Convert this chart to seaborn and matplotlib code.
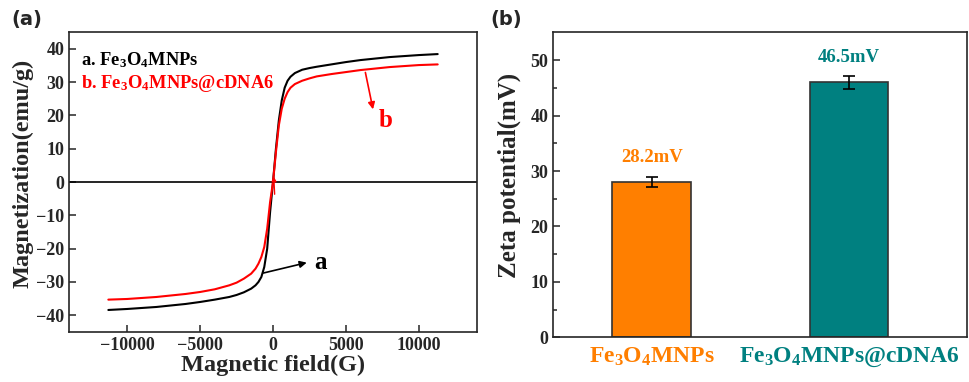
import numpy as np
import pandas as pd
import matplotlib
matplotlib.use("Agg")
import matplotlib.pyplot as plt
import seaborn as sns

# Hysteresis data (field in G, magnetization in emu/g)
field = [-11300, -10000, -8000, -6000, -5000, -4000, -3000, -2500, -2000, -1500,
         -1200, -1000, -800, -600, -400, -200, 0, 200, 400, 600, 800, 1000, 1200,
         1500, 2000, 2500, 3000, 4000, 5000, 6000, 8000, 10000, 11300]
mag_a = [-38.4, -38.1, -37.5, -36.6, -36.0, -35.3, -34.5, -33.9, -33.1, -32.0,
         -31.0, -30.0, -28.5, -25.5, -20.0, -9.0, 0.0, 10.0, 18.5, 24.5, 28.3, 30.4, 31.6,
         32.7, 33.7, 34.2, 34.6, 35.3, 36.0, 36.6, 37.5, 38.1, 38.4]
mag_b = [-35.3, -35.1, -34.5, -33.6, -33.0, -32.2, -31.0, -30.2, -29.0, -27.5,
         -26.0, -24.5, -22.5, -19.5, -14.0, -6.0, 0.0, 9.0, 17.0, 22.0, 25.0, 27.0, 28.3,
         29.4, 30.4, 31.1, 31.7, 32.4, 33.0, 33.6, 34.5, 35.1, 35.3]

# Zeta potential data
samples = ["Fe$_3$O$_4$MNPs", "Fe$_3$O$_4$MNPs@cDNA6"]
zeta = [28.0, 46.0]
zeta_err = [0.9, 1.15]
zeta_labels = ["28.2mV", "46.5mV"]
bar_colors = ["#FF7F00", "#008080"]

sns.set_style("ticks")
plt.rcParams["font.family"] = ["Liberation Serif", "DejaVu Serif"]
plt.rcParams["font.weight"] = "bold"
plt.rcParams["mathtext.fontset"] = "custom"
plt.rcParams["mathtext.rm"] = "Liberation Serif:bold"
plt.rcParams["mathtext.it"] = "Liberation Serif:bold"
plt.rcParams["mathtext.bf"] = "Liberation Serif:bold"
plt.rcParams["mathtext.default"] = "rm"
plt.rcParams["axes.linewidth"] = 1.2
plt.rcParams["xtick.direction"] = "in"
plt.rcParams["ytick.direction"] = "in"

fig = plt.figure(figsize=(9.69, 3.82), dpi=100)
ax1 = fig.add_axes([0.0712, 0.131, 0.4211, 0.785])
ax2 = fig.add_axes([0.571, 0.117, 0.4272, 0.798])

# (a) magnetization curves
df = pd.DataFrame({"field": field, "a": mag_a, "b": mag_b})
sns.lineplot(data=df, x="field", y="a", color="black", lw=1.5, ax=ax1)
sns.lineplot(data=df, x="field", y="b", color="red", lw=1.5, ax=ax1)
ax1.axhline(0, color="black", lw=1.2)
ax1.set_xlim(-14000, 14000)
ax1.set_ylim(-45, 45)
ax1.set_xticks([-10000, -5000, 0, 5000, 10000])
ax1.set_yticks(range(-40, 41, 10))
ax1.tick_params(labelsize=13, length=5, width=1.1)
ax1.set_xlabel("Magnetic field(G)", fontsize=17.5, fontweight="bold", labelpad=1)
ax1.set_ylabel("Magnetization(emu/g)", fontsize=17.5, fontweight="bold")
ax1.yaxis.set_label_coords(-0.088, 0.53)
ax1.text(-13200, 36.5, "a. Fe$_3$O$_4$MNPs", color="black", fontsize=13.3, va="center")
ax1.text(-13200, 29.7, "b. Fe$_3$O$_4$MNPs@cDNA6", color="red", fontsize=13.3, va="center")
ax1.annotate("", xy=(6900, 21), xytext=(6300, 33.7),
             arrowprops=dict(arrowstyle="-|>", color="red", lw=1.2, mutation_scale=10))
ax1.text(7700, 18.5, "b", color="red", fontsize=18, ha="center", va="center")
ax1.annotate("", xy=(2500, -24), xytext=(-840, -27.5),
             arrowprops=dict(arrowstyle="-|>", color="black", lw=1.2, mutation_scale=10))
ax1.text(3250, -24.3, "a", color="black", fontsize=18, ha="center", va="center")
ax1.annotate("", xy=(40, 2.5), xytext=(120, -4.5),
             arrowprops=dict(arrowstyle="-|>", color="red", lw=1.0, mutation_scale=7))

# (b) zeta potential bars
zdf = pd.DataFrame({"sample": samples, "zeta": zeta})
sns.barplot(data=zdf, x="sample", y="zeta", hue="sample", palette=bar_colors,
            saturation=1, width=0.4, edgecolor="#333333", linewidth=1.2,
            legend=False, ax=ax2)
ax2.errorbar(range(len(zeta)), zeta, yerr=zeta_err, fmt="none", ecolor="black",
             elinewidth=1.2, capsize=4, capthick=1.2)
for i, (v, lab, c) in enumerate(zip(zeta, zeta_labels, bar_colors)):
    ax2.text(i, v + 4.5, lab, color=c, fontsize=13.5, ha="center", va="center")
ax2.set_xlim(-0.5, 1.6)
ax2.set_ylim(0, 55)
ax2.set_yticks(range(0, 51, 10))
ax2.set_yticks(range(5, 55, 10), minor=True)
ax2.tick_params(axis="y", labelsize=13, length=5, width=1.1)
ax2.tick_params(axis="y", which="minor", length=3, width=1.1)
ax2.tick_params(axis="x", labelsize=17, length=5, width=1.1, pad=6)
for lbl, c in zip(ax2.get_xticklabels(), bar_colors):
    lbl.set_color(c)
ax2.set_xlabel("")
ax2.set_ylabel("Zeta potential(mV)", fontsize=18, fontweight="bold")
ax2.yaxis.set_label_coords(-0.078, 0.53)

fig.text(0.012, 0.975, "(a)", fontsize=14, fontweight="bold", family="DejaVu Sans", va="top")
fig.text(0.506, 0.975, "(b)", fontsize=14, fontweight="bold", family="DejaVu Sans", va="top")

fig.savefig("out.png", dpi=100)
